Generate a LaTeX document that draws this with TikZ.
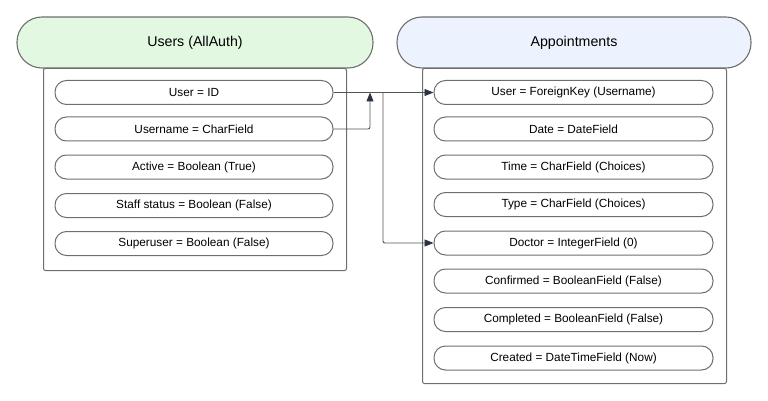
\documentclass[tikz,border=0pt]{standalone}
\usepackage{fontspec}
\setmainfont{Liberation Sans}
\usetikzlibrary{arrows.meta}
\definecolor{lgreen}{HTML}{E3F8E1}
\definecolor{lblue}{HTML}{EDF3FE}
\definecolor{edge}{HTML}{6E6E6E}
\definecolor{lnk}{HTML}{555555}
\definecolor{tip}{HTML}{2B3340}
\tikzset{
  header/.style={draw=edge, line width=1.1pt, rounded corners=25pt, minimum width=#1, minimum height=51pt, inner sep=0pt, font=\fontsize{14.2}{16}\selectfont},
  container/.style={draw=edge, line width=1pt, rounded corners=2pt, inner sep=0pt},
  field/.style={draw=edge, line width=1pt, rounded corners=11.5pt, minimum width=#1, minimum height=24pt, inner sep=0pt, font=\fontsize{11.8}{13}\selectfont},
  link/.style={draw=lnk, line width=0.9pt, rounded corners=2pt},
  arr/.style={-{Triangle[length=9pt,width=7pt,color=tip]}}
}
\begin{document}
\begin{tikzpicture}[x=1pt,y=-1pt]
\useasboundingbox (0,0) rectangle (768,401);
% Left table
\node[container, minimum width=303pt, minimum height=202pt, anchor=north west] (lc) at (43,68) {};
\node[header=356pt, fill=lgreen] (lh) at (195,42.5) {Users (AllAuth)};
\node[field=278pt] (uid) at (194,92.5) {User = ID};
\node[field=278pt] (uname) at (194,129) {Username = CharField};
\node[field=278pt] (act) at (194,167) {Active = Boolean (True)};
\node[field=278pt] (staff) at (194,205.5) {Staff status = Boolean (False)};
\node[field=278pt] (super) at (194,243.5) {Superuser = Boolean (False)};
% Right table
\node[container, minimum width=304pt, minimum height=315pt, anchor=north west] (rc) at (422,68) {};
\node[header=354pt, fill=lblue] (rh) at (574,42.5) {Appointments};
\node[field=279pt] (fk) at (573.5,92.5) {User = ForeignKey (Username)};
\node[field=279pt] (date) at (573.5,129) {Date = DateField};
\node[field=279pt] (time) at (573.5,167) {Time = CharField (Choices)};
\node[field=279pt] (type) at (573.5,204.5) {Type = CharField (Choices)};
\node[field=279pt] (doc) at (573.5,243) {Doctor = IntegerField (0)};
\node[field=279pt] (conf) at (573.5,281) {Confirmed = BooleanField (False)};
\node[field=279pt] (comp) at (573.5,319.5) {Completed = BooleanField (False)};
\node[field=279pt] (crea) at (573.5,358) {Created = DateTimeField (Now)};
% Connectors
\coordinate (j1) at (370,92.5);
\coordinate (j2) at (383,92.5);
\draw[link, arr] (uid.east) -- (fk.west);
\draw[link, arr] (uname.east) -| (j1);
\draw[link, arr] (j2) |- (doc.west);
\end{tikzpicture}
\end{document}
